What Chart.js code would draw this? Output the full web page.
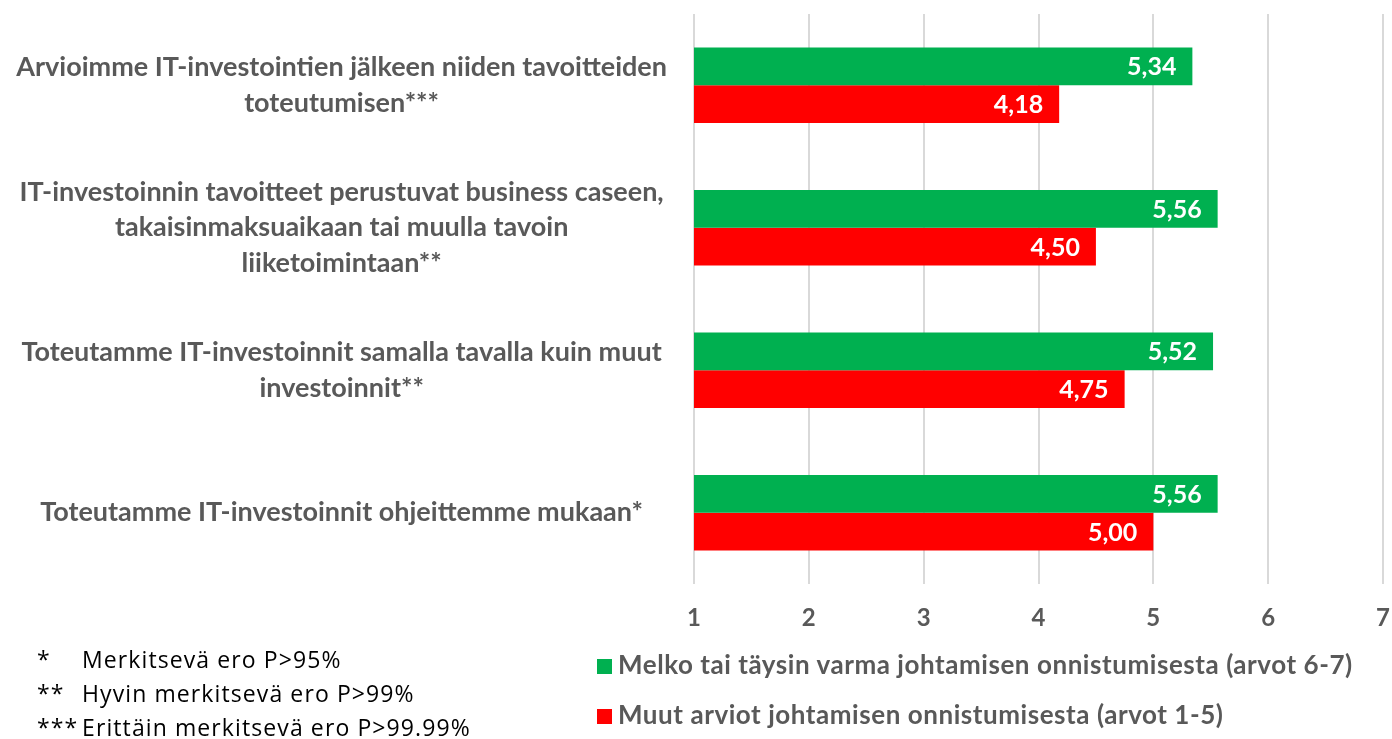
<!DOCTYPE html>
<html>
<head>
<meta charset="utf-8">
<script src="https://cdn.jsdelivr.net/npm/chart.js@4.4.0/dist/chart.umd.min.js"></script>
<style>
  html, body { margin: 0; padding: 0; background: #fff; }
  #wrap { position: relative; width: 1392px; height: 739px; }
  #chart { position: absolute; left: 0; top: 0; }
  .notes { position: absolute; left: 37px; top: 642px; font-family: "Open Sans", sans-serif; font-size: 23px; letter-spacing: 1.1px; color: #000; }
  .notes div { height: 34px; line-height: 34px; white-space: nowrap; }
  .notes span { display: inline-block; width: 45px; }
  #legend { position: absolute; left: 597px; top: 645px; font-family: Lato, sans-serif; font-weight: bold; font-size: 26px; letter-spacing: 0.55px; color: #595959; }
  #legend div { height: 50px; line-height: 38px; white-space: nowrap; }
  #legend i { display: inline-block; width: 15px; height: 15px; margin-right: 6px; vertical-align: 0px; }
</style>
</head>
<body>
<div id="wrap">
  <canvas id="chart" width="1392" height="739"></canvas>
  <div class="notes">
    <div><span>*</span>Merkitsevä ero P&gt;95%</div>
    <div><span>**</span>Hyvin merkitsevä ero P&gt;99%</div>
    <div><span>***</span>Erittäin merkitsevä ero P&gt;99.99%</div>
  </div>
  <div id="legend"></div>
</div>
<script>
// Kysymykset (y-akseli)
const categories = [
  ['Arvioimme IT-investointien jälkeen niiden tavoitteiden', 'toteutumisen***'],
  ['IT-investoinnin tavoitteet perustuvat business caseen,', 'takaisinmaksuaikaan tai muulla tavoin', 'liiketoimintaan**'],
  ['Toteutamme IT-investoinnit samalla tavalla kuin muut', 'investoinnit**'],
  ['Toteutamme IT-investoinnit ohjeittemme mukaan*']
];
const seriesNames = [
  'Melko tai täysin varma johtamisen onnistumisesta (arvot 6-7)',
  'Muut arviot johtamisen onnistumisesta (arvot 1-5)'
];
const greenValues = [5.34, 5.56, 5.52, 5.56];
const redValues = [4.18, 4.50, 4.75, 5.00];
const tickValues = [1, 2, 3, 4, 5, 6, 7];

const colors = ['#00B050', '#FF0000'];
const gray = '#595959';
const font = 'Lato, sans-serif';

// arvot palkkien sisään, oikeaan reunaan
const valueLabels = {
  id: 'valueLabels',
  afterDatasetsDraw(chart) {
    const ctx = chart.ctx;
    ctx.save();
    ctx.font = 'bold 25px ' + font;
    ctx.fillStyle = '#fff';
    ctx.textAlign = 'right';
    ctx.textBaseline = 'middle';
    chart.data.datasets.forEach((ds, i) => {
      chart.getDatasetMeta(i).data.forEach((bar, j) => {
        ctx.fillText(ds.data[j].toFixed(2).replace('.', ','), bar.x - 16, bar.y + 1);
      });
    });
    ctx.restore();
  }
};

new Chart(document.getElementById('chart'), {
  type: 'bar',
  data: {
    labels: categories,
    datasets: [
      { label: seriesNames[0], data: greenValues, backgroundColor: colors[0] },
      { label: seriesNames[1], data: redValues, backgroundColor: colors[1] }
    ]
  },
  options: {
    indexAxis: 'y',
    responsive: false,
    animation: false,
    categoryPercentage: 0.53,
    barPercentage: 1,
    layout: { padding: { top: 14, right: 9, bottom: 85, left: 0 } },
    plugins: {
      legend: { display: false },
      tooltip: { enabled: false }
    },
    scales: {
      x: {
        min: 1,
        max: 7,
        afterBuildTicks: s => { s.ticks = tickValues.map(v => ({ value: v })); },
        afterFit: s => { s.height = 70; s.paddingLeft = 0; s.paddingRight = 0; },
        grid: { color: '#D9D9D9', lineWidth: 2, drawTicks: false },
        border: { display: false },
        ticks: {
          padding: 20,
          color: gray,
          font: { family: font, size: 24, weight: 'bold' }
        }
      },
      y: {
        afterFit: s => { s.width = 694; s.paddingTop = 0; s.paddingBottom = 0; },
        grid: { display: false, drawTicks: false },
        border: { display: false },
        ticks: {
          padding: 27,
          crossAlign: 'center',
          color: gray,
          font: { family: font, size: 27, weight: 'bold', lineHeight: 1.33 }
        }
      }
    }
  },
  plugins: [valueLabels]
});

document.getElementById('legend').innerHTML = seriesNames
  .map((n, i) => '<div><i style="background:' + colors[i] + '"></i>' + n + '</div>')
  .join('');
</script>
</body>
</html>
